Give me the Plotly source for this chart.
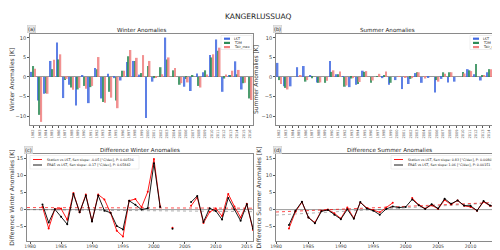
import plotly.graph_objects as go

W, H = 500, 250
def px(x): return x / W
def py(y): return 1 - y / H

# ---------------- data ----------------
years_w = list(range(1982, 2017))
years_s = list(range(1982, 2016))
year_labels_w = [str(y) for y in years_w]
year_labels_s = [str(y) for y in years_s]

winter_lst = [1.3, -6.0, -4.3, 4.1, 8.8, -5.4, -2.0, -7.3, 0.3, -6.7, 2.3, -5.5, 0.8, -0.3, -0.9, 3.8, 4.1, 0.6,
              -10.5, -1.2, 0.0, 10.1, 0.0, 0.0, -2.5, -3.6, 0.9, 1.2, 5.6, 9.6, -3.8, 0.5, 4.0, -3.2, 0.0]
winter_t2m = [2.8, -9.7, -4.2, 2.0, 4.5, -0.8, -2.7, -3.2, -2.3, -2.6, 2.0, -6.4, -3.8, -6.0, 1.6, 5.3, 4.1, 1.0,
              2.8, -0.3, 2.5, 4.5, 1.7, -2.0, -0.5, 0.3, -2.3, 1.7, 5.0, 6.7, -0.4, 0.5, 0.7, -1.6, -5.5]
winter_tmax = [2.1, -11.5, -4.3, 4.4, 5.8, -0.5, -3.3, -2.8, -3.0, -2.3, 5.1, -6.6, -5.3, -8.0, 1.6, 6.9, 4.9, 5.6,
               4.1, -0.2, 0.7, 5.0, 2.3, -1.6, -1.4, 0.0, -2.7, 0.6, 5.8, 7.5, 0.6, 1.6, 1.8, -1.5, -5.9]

summer_lst = [3.6, -2.4, -2.4, 2.5, 2.8, 0.3, -1.4, 0.0, 4.1, 0.7, 0.1, -2.6, -2.0, 1.6, 0.0, 0.0, -0.3,
              -2.0, -0.8, -3.1, -1.8, 1.0, -1.5, -0.2, -4.0, -0.5, -1.4, -1.2, 0.0, 2.0, 0.7, -0.9, 1.2, 0.7]
summer_t2m = [-0.8, -2.8, 0.0, 0.0, -1.2, -0.3, -1.5, -1.5, 1.3, 0.7, -2.5, -0.4, -1.8, 1.3, -1.5, 0.2, 0.5,
              -1.5, 0.0, 0.0, -0.5, 1.2, 0.0, 0.0, -0.8, 1.2, 1.2, 0.0, 1.3, 1.7, 3.3, 0.3, 2.0, 0.9]
summer_tmax = [-1.8, -3.2, 0.0, 0.3, -0.8, 0.0, -1.4, -1.0, 1.7, 1.4, -2.2, -0.3, -1.3, 1.5, -0.9, 0.8, 1.4,
               0.0, 0.1, -0.2, -0.3, 1.2, -0.4, 0.0, -1.2, 0.8, 1.2, 0.0, 0.9, 1.5, 0.0, 0.5, 2.0, 0.0]

diff_w_station = [0.8, -5.5, 0.2, 0.3, -3.0, 4.9, -0.8, 4.4, -3.4, 4.4, 3.0, -1.0, -6.2, -7.9, 2.6, 3.1, 0.7, 5.2,
                  14.8, 1.0, None, -5.3, None, None, 1.1, 3.6, -3.9, -0.7, 0.3, -1.9, 4.6, 0.9, -2.3, 1.7, -6.0]
diff_w_era5 = [1.5, -3.8, 0.1, -2.1, -4.3, 4.6, -0.8, 4.1, -3.5, 4.1, -0.3, -0.9, -4.8, -5.8, 2.6, 1.4, 0.0, 0.4,
               13.6, 0.8, None, -5.6, None, None, 2.2, 4.0, -3.6, 0.4, -0.4, -2.9, 3.4, 0.0, -3.3, 1.6, -5.6]

diff_s_station = [-5.5, -0.6, 2.2, -2.3, -3.8, -0.3, 0.0, -1.1, -2.6, 0.6, -2.5, 2.1, 0.5, -0.1, -0.8, 0.6, 2.0,
                  None, None, 3.4, 1.4, 0.3, 1.3, 0.2, 2.8, 1.5, 2.7, 1.1, 0.8, -0.3, 2.3, 1.1, 0.9, -0.6]
diff_s_era5 = [-4.5, -0.3, 2.3, -2.3, -4.0, -0.5, -0.1, -1.5, -2.8, 0.1, -2.7, 2.2, 0.3, -0.3, -1.5, 0.2, 0.9,
               0.6, 0.8, 3.0, 1.3, 0.2, 1.6, 0.3, 3.2, 1.7, 2.7, 1.2, 1.1, -0.3, 2.5, 1.2, 0.8, -0.2]

trend_w_years = [1979.5, 2016]
trend_w_station = [0.6, 0.42]
trend_w_era5 = [0.0, -0.6]
trend_s_years = [1980, 2015]
trend_s_station = [-0.7, 2.2]
trend_s_era5 = [-1.6, 2.1]

bar_names = ["LST", "T2M", "Tair_max"]
legend_c = ["Station vs LST, Sen slope: -0.05 [°C/dec], P: 0.60536",
            "ERA5 vs LST, Sen slope: -0.17 [°C/dec], P: 0.65842"]
legend_d = ["Station vs LST, Sen slope: 0.83 [°C/dec], P: 0.00801",
            "ERA5 vs LST, Sen slope: 1.06 [°C/dec], P: 0.00151"]

# ---------------- style ----------------
C_BAR = ["#4169e1", "#2e8b57", "#f08080"]
FONT = "DejaVu Sans"
FRAME = "#8a8a8a"
TXT = "#222222"

fig = go.Figure()

# bars (a)
for name, vals, col in zip(bar_names, [winter_lst, winter_t2m, winter_tmax], C_BAR):
    fig.add_trace(go.Bar(x=year_labels_w, y=vals, name=name, marker_color=col, opacity=0.85,
                         marker_line_width=0, xaxis="x", yaxis="y", showlegend=False))
# bars (b)
for name, vals, col in zip(bar_names, [summer_lst, summer_t2m, summer_tmax], C_BAR):
    fig.add_trace(go.Bar(x=year_labels_s, y=vals, name=name, marker_color=col, opacity=0.85,
                         marker_line_width=0, xaxis="x2", yaxis="y2", showlegend=False))

# (c) lines
fig.add_trace(go.Scatter(x=trend_w_years, y=[0, 0], mode="lines", line=dict(color="#9a9a9a", width=1),
                         xaxis="x3", yaxis="y3", showlegend=False, hoverinfo="skip"))
fig.add_trace(go.Scatter(x=trend_w_years, y=trend_w_station, mode="lines",
                         line=dict(color="rgba(255,0,0,0.7)", width=1, dash="dot"),
                         xaxis="x3", yaxis="y3", showlegend=False))
fig.add_trace(go.Scatter(x=trend_w_years, y=trend_w_era5, mode="lines",
                         line=dict(color="rgba(0,0,0,0.3)", width=1, dash="dot"),
                         xaxis="x3", yaxis="y3", showlegend=False))
fig.add_trace(go.Scatter(x=years_w, y=diff_w_station, mode="lines+markers", name=legend_c[0],
                         line=dict(color="red", width=0.9), marker=dict(size=2, color="red"),
                         xaxis="x3", yaxis="y3", showlegend=False))
fig.add_trace(go.Scatter(x=years_w, y=diff_w_era5, mode="lines+markers", name=legend_c[1],
                         line=dict(color="black", width=0.9), marker=dict(size=2, color="black"),
                         xaxis="x3", yaxis="y3", showlegend=False))

# (d) lines
fig.add_trace(go.Scatter(x=trend_s_years, y=[0, 0], mode="lines", line=dict(color="#9a9a9a", width=1),
                         xaxis="x4", yaxis="y4", showlegend=False, hoverinfo="skip"))
fig.add_trace(go.Scatter(x=trend_s_years, y=trend_s_station, mode="lines",
                         line=dict(color="rgba(255,0,0,0.7)", width=1, dash="dot"),
                         xaxis="x4", yaxis="y4", showlegend=False))
fig.add_trace(go.Scatter(x=trend_s_years, y=trend_s_era5, mode="lines",
                         line=dict(color="rgba(0,0,0,0.3)", width=1, dash="dot"),
                         xaxis="x4", yaxis="y4", showlegend=False))
fig.add_trace(go.Scatter(x=years_s, y=diff_s_station, mode="lines+markers", name=legend_d[0],
                         line=dict(color="red", width=0.9), marker=dict(size=2, color="red"),
                         xaxis="x4", yaxis="y4", showlegend=False))
fig.add_trace(go.Scatter(x=years_s, y=diff_s_era5, mode="lines+markers", name=legend_d[1],
                         line=dict(color="black", width=0.9), marker=dict(size=2, color="black"),
                         xaxis="x4", yaxis="y4", showlegend=False))

# ---------------- axes ----------------
def frame_axis(**kw):
    base = dict(showline=True, linecolor=FRAME, linewidth=0.8, mirror=True, ticks="outside",
                ticklen=2, tickwidth=0.6, tickcolor="#555", showgrid=False, zeroline=False,
                automargin=False, tickfont=dict(size=5, color="#444", family=FONT))
    base.update(kw)
    return base

top_y = (py(117), py(26))
bot_y = (py(233), py(146))

layout = dict(
    width=W, height=H, margin=dict(l=0, r=0, t=0, b=0, pad=0, autoexpand=False),
    paper_bgcolor="white", plot_bgcolor="white",
    font=dict(family=FONT, color=TXT),
    barmode="group", bargap=0.2, bargroupgap=0.0,
    xaxis=frame_axis(domain=[px(22), px(245)], anchor="y", type="category", tickangle=-90, dtick=1,
                     tickfont=dict(size=3.6, color="#555", family=FONT)),
    yaxis=frame_axis(domain=list(top_y), anchor="x", range=[-12.3, 11.0], tickvals=[-10, -5, 0, 5, 10],
                     zeroline=True, zerolinecolor="#999", zerolinewidth=0.6,
                     title=dict(text="Winter Anomalies [K]", font=dict(size=6, color="#333"), standoff=2)),
    xaxis2=frame_axis(domain=[px(268), px(491)], anchor="y2", type="category", tickangle=-90, dtick=1,
                      tickfont=dict(size=3.6, color="#555", family=FONT)),
    yaxis2=frame_axis(domain=list(top_y), anchor="x2", range=[-12.3, 11.0], tickvals=[-10, -5, 0, 5, 10],
                      zeroline=True, zerolinecolor="#999", zerolinewidth=0.6,
                      title=dict(text="Summer Anomalies [K]", font=dict(size=6, color="#333"), standoff=2)),
    xaxis3=frame_axis(domain=[px(19), px(245)], anchor="y3", range=[1979.5, 2016],
                      tickvals=[1980, 1985, 1990, 1995, 2000, 2005, 2010, 2015],
                      tickfont=dict(size=4.6, color="#444", family=FONT), ticklabelstandoff=-1),
    yaxis3=frame_axis(domain=list(bot_y), anchor="x3", range=[-9.2, 16.3], tickvals=[-5, 0, 5, 10, 15],
                      title=dict(text="Difference Winter Anomalies [K]", font=dict(size=6, color="#333"), standoff=2)),
    xaxis4=frame_axis(domain=[px(268), px(495)], anchor="y4", range=[1980, 2015],
                      tickvals=[1980, 1985, 1990, 1995, 2000, 2005, 2010, 2015],
                      tickfont=dict(size=4.6, color="#444", family=FONT), ticklabelstandoff=-1),
    yaxis4=frame_axis(domain=list(bot_y), anchor="x4", range=[-9.2, 16.3], tickvals=[-5, 0, 5, 10, 15],
                      title=dict(text="Difference Summer Anomalies [K]", font=dict(size=6, color="#333"), standoff=2)),
)
fig.update_layout(**layout)

annotations = []
shapes = []

# main title
annotations.append(dict(text="KANGERLUSSUAQ", x=0.5, y=py(8), xref="paper", yref="paper",
                        showarrow=False, font=dict(size=7.5, color=TXT), xanchor="center", yanchor="middle"))

# subplot titles and panel letters
panels = [("Winter Anomalies", "(a)", 22, 245, 22),
          ("Summer Anomalies", "(b)", 268, 491, 22),
          ("Difference Winter Anomalies", "(c)", 19, 245, 142),
          ("Difference Summer Anomalies", "(d)", 268, 495, 142)]
for title, letter, x0, x1, yt in panels:
    annotations.append(dict(text=title, x=px((x0 + x1) / 2), y=py(yt), xref="paper", yref="paper",
                            showarrow=False, font=dict(size=5.6, color=TXT), xanchor="center", yanchor="middle"))
    annotations.append(dict(text=letter, x=px(x0 - 3), y=py(yt - 0.5), xref="paper", yref="paper",
                            showarrow=False, font=dict(size=5, color=TXT), xanchor="left", yanchor="middle",
                            bgcolor="#e6e6e6", bordercolor="#c8c8c8", borderwidth=0.5, borderpad=0.5))

# bar legends (a) & (b)
def bar_legend(x0, x1, y0):
    shapes.append(dict(type="rect", xref="paper", yref="paper", x0=px(x0), x1=px(x1),
                       y0=py(y0 + 14), y1=py(y0), line=dict(color="#dddddd", width=0.5), fillcolor="white"))
    for k, (name, col) in enumerate(zip(bar_names, C_BAR)):
        yy = y0 + 3.2 + k * 4.2
        shapes.append(dict(type="rect", xref="paper", yref="paper", x0=px(x0 + 3), x1=px(x0 + 9),
                           y0=py(yy + 1.1), y1=py(yy - 1.1), line=dict(width=0), fillcolor=col))
        annotations.append(dict(text=name, x=px(x0 + 11), y=py(yy), xref="paper", yref="paper",
                                showarrow=False, font=dict(size=3.3, color=TXT), xanchor="left", yanchor="middle"))

bar_legend(213, 244, 27.5)
bar_legend(462, 490, 27.5)

# line legends (c) & (d)
def line_legend(x0, x1, y0, labels):
    shapes.append(dict(type="rect", xref="paper", yref="paper", x0=px(x0), x1=px(x1),
                       y0=py(y0 + 13.5), y1=py(y0), line=dict(color="#dddddd", width=0.5), fillcolor="white"))
    for k, (lab, col) in enumerate(zip(labels, ["red", "black"])):
        yy = y0 + 4 + k * 5.5
        shapes.append(dict(type="line", xref="paper", yref="paper", x0=px(x0 + 3), x1=px(x0 + 12),
                           y0=py(yy), y1=py(yy), line=dict(color=col, width=0.9)))
        annotations.append(dict(text=lab, x=px(x0 + 15), y=py(yy), xref="paper", yref="paper",
                                showarrow=False, font=dict(size=3.3, color=TXT), xanchor="left", yanchor="middle"))

line_legend(22, 131, 147.5, legend_c)
line_legend(383, 493, 147.5, legend_d)

fig.update_layout(annotations=annotations, shapes=shapes)
fig.write_html("out.html")
